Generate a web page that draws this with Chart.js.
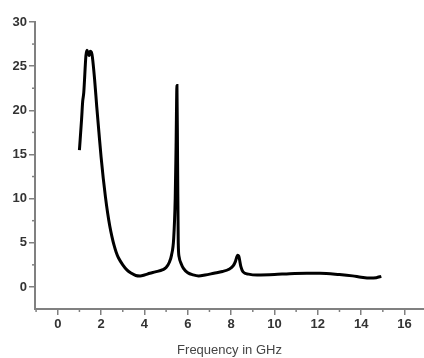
<!DOCTYPE html>
<html>
<head>
<meta charset="utf-8">
<script src="https://cdn.jsdelivr.net/npm/chart.js@4/dist/chart.umd.min.js"></script>
<style>
html,body{margin:0;padding:0;background:#fff;}
#wrap{width:424px;height:358px;position:relative;}
</style>
</head>
<body>
<div id="wrap"><canvas id="c" width="424" height="358"></canvas></div>
<script>
const freqGHz = [1.0,1.1,1.15,1.2,1.3,1.35,1.4,1.45,1.5,1.55,1.6,1.7,1.8,1.9,2.0,2.1,2.2,2.3,2.4,2.5,2.6,2.7,2.8,3.0,3.2,3.4,3.6,3.8,4.0,4.25,4.5,4.85,5.0,5.15,5.25,5.35,5.42,5.46,5.5,5.53,5.56,5.6,5.7,5.8,6.0,6.25,6.5,6.8,7.2,7.6,7.9,8.1,8.2,8.3,8.35,8.45,8.55,8.8,9.2,10.0,10.7,11.5,12.1,13.0,13.6,14.0,14.4,14.7,14.93];
const values  = [15.5,19.0,21.0,22.0,26.2,26.8,26.5,26.2,26.7,26.6,26.0,23.5,20.4,17.5,14.7,12.3,10.2,8.4,6.9,5.7,4.7,3.9,3.3,2.5,1.9,1.55,1.3,1.25,1.35,1.55,1.7,1.95,2.2,2.8,3.6,5.5,10,16,22.8,14,5,3.4,2.6,2.1,1.6,1.36,1.25,1.35,1.55,1.75,2.0,2.4,2.9,3.6,3.5,2.3,1.7,1.45,1.35,1.4,1.5,1.55,1.55,1.4,1.25,1.1,1.0,1.05,1.2];
const xMajorTicks = [0,2,4,6,8,10,12,14,16];
const xMinorTicks = [-1,1,3,5,7,9,11,13,15];
const yMajorTicks = [0,5,10,15,20,25,30];
const yMinorTicks = [2.5,7.5,12.5,17.5,22.5,27.5];
const xTitle = 'Frequency in GHz';

const axisColor = '#808080';
const minorTicks = {
  id:'minorTicks',
  afterDraw(chart){
    const ctx = chart.ctx, xs = chart.scales.x, ys = chart.scales.y, a = chart.chartArea;
    ctx.save();
    ctx.strokeStyle = axisColor; ctx.lineWidth = 1.5;
    xMinorTicks.forEach(v=>{
      const p = xs.getPixelForValue(v);
      ctx.beginPath(); ctx.moveTo(p, a.bottom); ctx.lineTo(p, a.bottom+3); ctx.stroke();
    });
    yMinorTicks.forEach(v=>{
      const p = ys.getPixelForValue(v);
      ctx.beginPath(); ctx.moveTo(a.left, p); ctx.lineTo(a.left-3, p); ctx.stroke();
    });
    ctx.restore();
  }
};

new Chart(document.getElementById('c'), {
  type:'line',
  data:{
    datasets:[{
      data: freqGHz.map((x,i)=>({x, y: values[i]})),
      borderColor:'#000', borderWidth:3, pointRadius:0,
      cubicInterpolationMode:'monotone', fill:false
    }]
  },
  options:{
    responsive:false, animation:false,
    layout:{padding:{top:22,right:0,left:0,bottom:0}},
    plugins:{legend:{display:false}, tooltip:{enabled:false}},
    scales:{
      x:{
        type:'linear', min:-1.05, max:16.9,
        afterBuildTicks(s){ s.ticks = xMajorTicks.map(v=>({value:v})); },
        afterFit(s){ s.height = 49; },
        grid:{drawOnChartArea:false, drawTicks:true, tickLength:6, color:axisColor, lineWidth:1.5},
        border:{color:axisColor, width:2},
        ticks:{color:'#333', font:{family:'Liberation Sans', size:13, weight:'bold'}, padding:2, maxRotation:0, autoSkip:false},
        title:{display:true, text:xTitle, color:'#444', font:{family:'Liberation Sans', size:13}, padding:{top:1,bottom:0}}
      },
      y:{
        type:'linear', min:-2.5, max:30,
        afterBuildTicks(s){ s.ticks = yMajorTicks.map(v=>({value:v})); },
        afterFit(s){ s.width = 35; },
        grid:{drawOnChartArea:false, drawTicks:true, tickLength:6, color:axisColor, lineWidth:1.5},
        border:{color:axisColor, width:2},
        ticks:{color:'#333', font:{family:'Liberation Sans', size:13, weight:'bold'}, padding:2, autoSkip:false}
      }
    }
  },
  plugins:[minorTicks]
});
</script>
</body>
</html>
